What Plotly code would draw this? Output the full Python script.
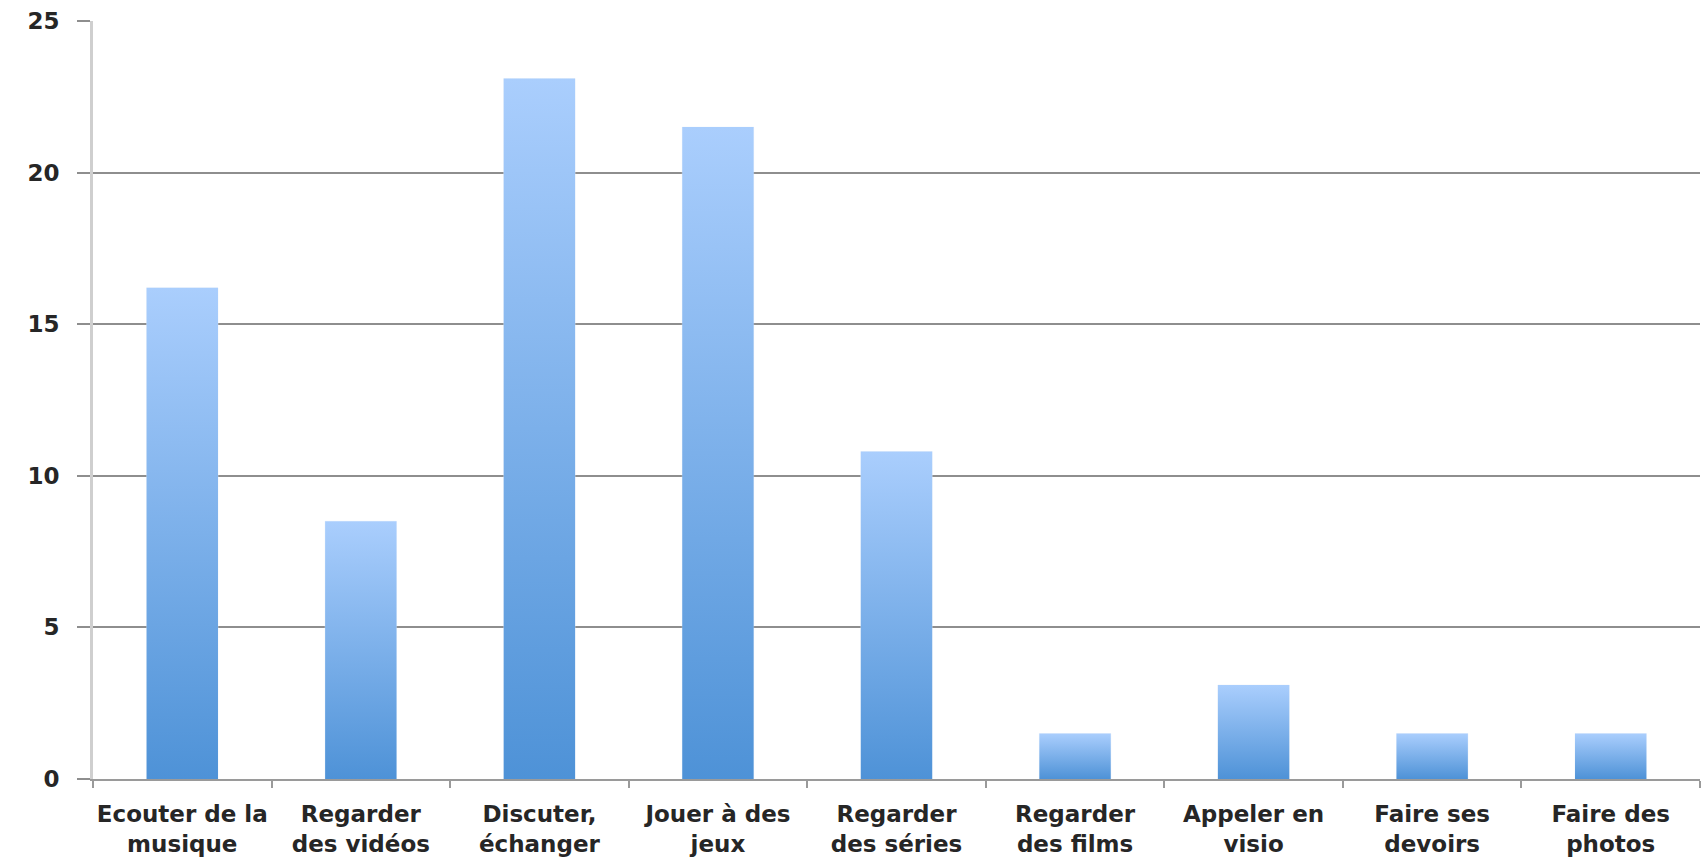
import plotly.graph_objects as go

# Activités (réponses, %)
categories = [
    "Ecouter de la<br>musique",
    "Regarder<br>des vidéos",
    "Discuter,<br>échanger",
    "Jouer à des<br>jeux",
    "Regarder<br>des séries",
    "Regarder<br>des films",
    "Appeler en<br>visio",
    "Faire ses<br>devoirs",
    "Faire des<br>photos",
]
values = [16.2, 8.5, 23.1, 21.5, 10.8, 1.5, 3.1, 1.5, 1.5]
y_ticks = [0, 5, 10, 15, 20, 25]

BAR_WIDTH = 0.4
GRADIENT = [[0, "#4e92d7"], [1, "#aacefd"]]
GRID = "#8e8e8e"
TEXT = "#262626"
FONT = dict(family="DejaVu Sans", size=23, color=TEXT, weight="bold")

fig = go.Figure()

# Category axis: carries the labels and the boundary ticks
fig.add_trace(go.Bar(
    x=categories, y=values, width=BAR_WIDTH,
    marker=dict(color="rgba(0,0,0,0)"),
    hovertemplate="%{x}: %{y}<extra></extra>",
    showlegend=False,
))

# Gradient-filled bars, one filled outline per category on a numeric overlay axis
for i, v in enumerate(values):
    x0, x1 = i - BAR_WIDTH / 2, i + BAR_WIDTH / 2
    fig.add_trace(go.Scatter(
        x=[x0, x1, x1, x0, x0], y=[0, 0, v, v, 0],
        xaxis="x2", mode="lines", line=dict(width=0),
        fill="toself",
        fillgradient=dict(type="vertical", colorscale=GRADIENT),
        hoverinfo="skip", showlegend=False,
    ))

fig.update_layout(
    width=1708, height=859,
    margin=dict(l=93, r=8, t=21, b=80),
    paper_bgcolor="white", plot_bgcolor="white",
    xaxis=dict(
        type="category", range=[-0.5, len(categories) - 0.5],
        tickson="boundaries", ticks="outside", ticklen=7, tickwidth=2,
        tickcolor="#9a9a9a", showline=True, linecolor="#9a9a9a", linewidth=2,
        showgrid=False, tickfont=FONT, tickangle=0, ticklabelstandoff=13,
        automargin=False,
    ),
    xaxis2=dict(
        overlaying="x", anchor="y", range=[-0.5, len(categories) - 0.5],
        visible=False,
    ),
    yaxis=dict(
        range=[0, 25], tickvals=y_ticks, showgrid=True, gridcolor=GRID,
        gridwidth=1.5, zeroline=False, showline=True, linecolor="#cfcfcf",
        linewidth=3, ticks="outside", ticklen=13, tickcolor=GRID, tickwidth=1.5,
        tickfont=FONT, ticklabelstandoff=13, automargin=False,
    ),
    bargap=0.6,
)

fig.write_html("out.html")
